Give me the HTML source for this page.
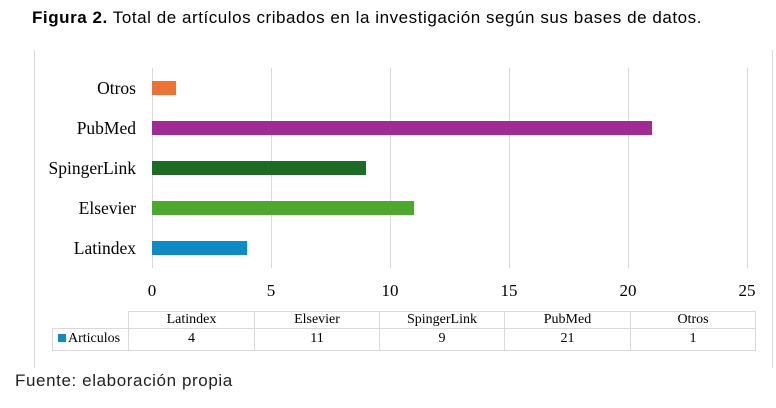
<!DOCTYPE html>
<html><head><meta charset="utf-8"><style>
body{margin:0;width:776px;height:408px;background:#fff;position:relative;overflow:hidden;font-family:"Liberation Serif",serif;}
.a{position:absolute;}
.g{position:absolute;top:68px;height:200px;width:1px;background:#d9d9d9;}
.bar{position:absolute;height:14px;left:152px;}
.lab{position:absolute;right:640px;font-size:17.5px;line-height:16px;white-space:nowrap;}
.tk{position:absolute;top:281px;font-size:17px;width:40px;margin-left:-20px;text-align:center;}
.c{position:absolute;font-size:14px;text-align:center;border:1px solid #d9d9d9;box-sizing:border-box;line-height:16px;}
</style></head><body>
<div class="a" style="left:32px;top:8px;font-family:'Liberation Sans',sans-serif;font-size:17px;letter-spacing:0.55px;white-space:nowrap"><b>Figura 2.</b> Total de artículos cribados en la investigación según sus bases de datos.</div>
<div class="a" style="left:34px;top:50px;width:1px;height:318px;background:#d9d9d9"></div>
<div class="a" style="left:772px;top:50px;width:1px;height:318px;background:#d9d9d9"></div>
<div class="g" style="left:152px"></div><div class="g" style="left:271px"></div><div class="g" style="left:390px"></div><div class="g" style="left:509px"></div><div class="g" style="left:628px"></div><div class="g" style="left:747px"></div>
<div class="bar" style="top:81px;width:24px;background:#ea7335"></div>
<div class="bar" style="top:121px;width:500px;background:#a02b93"></div>
<div class="bar" style="top:161px;width:214px;background:#1e6b25"></div>
<div class="bar" style="top:201px;width:262px;background:#4ea72e"></div>
<div class="bar" style="top:241px;width:95px;background:#0f8ac2"></div>
<div class="lab" style="top:80px">Otros</div>
<div class="lab" style="top:120px">PubMed</div>
<div class="lab" style="top:160px">SpingerLink</div>
<div class="lab" style="top:200px">Elsevier</div>
<div class="lab" style="top:240px">Latindex</div>
<div class="tk" style="left:152px">0</div><div class="tk" style="left:271px">5</div><div class="tk" style="left:390px">10</div><div class="tk" style="left:509px">15</div><div class="tk" style="left:628px">20</div><div class="tk" style="left:747px">25</div>
<div class="c" style="left:128px;top:311px;width:127px;height:18px">Latindex</div>
<div class="c" style="left:254px;top:311px;width:126px;height:18px">Elsevier</div>
<div class="c" style="left:379px;top:311px;width:126px;height:18px">SpingerLink</div>
<div class="c" style="left:504px;top:311px;width:127px;height:18px">PubMed</div>
<div class="c" style="left:630px;top:311px;width:126px;height:18px">Otros</div>
<div class="c" style="left:52px;top:328px;width:77px;height:23px;line-height:20px;text-align:left;padding-left:5px;white-space:nowrap"><span style="display:inline-block;width:8px;height:8px;background:#0f8ac2;margin-right:2px"></span>Articulos</div>
<div class="c" style="left:128px;top:328px;width:127px;height:23px;line-height:20px">4</div>
<div class="c" style="left:254px;top:328px;width:126px;height:23px;line-height:20px">11</div>
<div class="c" style="left:379px;top:328px;width:126px;height:23px;line-height:20px">9</div>
<div class="c" style="left:504px;top:328px;width:127px;height:23px;line-height:20px">21</div>
<div class="c" style="left:630px;top:328px;width:126px;height:23px;line-height:20px">1</div>
<div class="a" style="left:15px;top:371px;font-family:'Liberation Sans',sans-serif;font-size:17px;letter-spacing:0.6px;color:#222;white-space:nowrap">Fuente: elaboración propia</div>
</body></html>
